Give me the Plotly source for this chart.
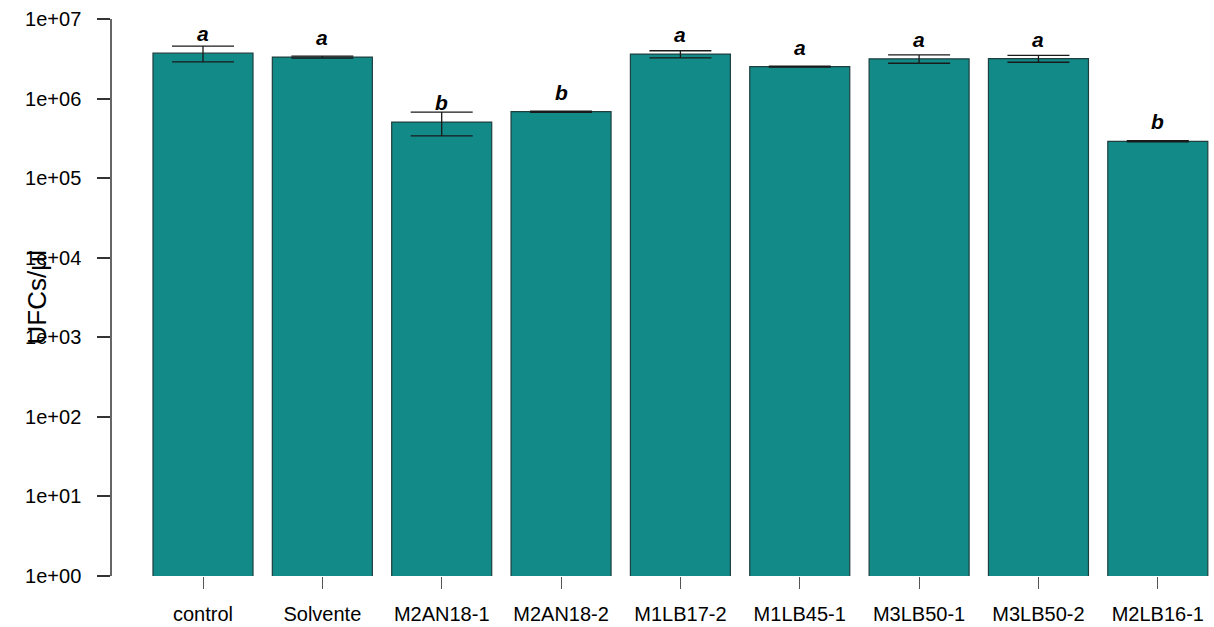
import numpy as np
import plotly.graph_objects as go

categories = ["control", "Solvente", "M2AN18-1", "M2AN18-2", "M1LB17-2",
              "M1LB45-1", "M3LB50-1", "M3LB50-2", "M2LB16-1"]
means = [3.72e6, 3.32e6, 5.07e5, 6.84e5, 3.62e6, 2.52e6, 3.16e6, 3.18e6, 2.90e5]
errors = [0.83e6, 0.09e6, 1.67e5, 0.12e5, 0.37e6, 0.04e6, 0.38e6, 0.32e6, 0.05e5]
letters = ["a", "a", "b", "b", "a", "a", "a", "a", "b"]
ytick_vals = [1e0, 1e1, 1e2, 1e3, 1e4, 1e5, 1e6, 1e7]
ytick_text = ["1e+00", "1e+01", "1e+02", "1e+03", "1e+04", "1e+05", "1e+06", "1e+07"]

FONT = "Liberation Sans, Arial, sans-serif"
W, H = 1214, 627
ML, MR, MT, MB = 112, 0, 19, 51
bar_w = 0.838

fig = go.Figure()
fig.add_trace(go.Bar(
    x=categories, y=means, width=bar_w,
    marker=dict(color="#118A88", line=dict(color="#1E3F3F", width=1.2)),
    error_y=dict(type="data", array=errors, visible=True,
                 color="#1a1a1a", thickness=1.3, width=31),
    showlegend=False,
))

for cat, m, lab in zip(categories, means, letters):
    fig.add_annotation(x=cat, y=np.log10(m), text=f"<b><i>{lab}</i></b>",
                       showarrow=False, yanchor="bottom", yshift=6,
                       font=dict(family=FONT, size=21, color="black"))

# y title
fig.add_annotation(xref="paper", yref="paper", x=(36 - ML) / (W - ML - MR), y=0.5,
                   text="UFCs/µl", textangle=-90, showarrow=False,
                   xanchor="center", yanchor="middle",
                   font=dict(family=FONT, size=26, color="black"))

# baseline under bars
fig.add_shape(type="line", xref="x", yref="y",
              x0=-bar_w / 2, x1=len(categories) - 1 + bar_w / 2, y0=0, y1=0,
              line=dict(color="#999999", width=1.5))

span = W - ML - MR
step = 119.35
left = -(203 - ML) / step
right = left + span / step

fig.update_layout(
    width=W, height=H,
    margin=dict(l=ML, r=MR, t=MT, b=MB, autoexpand=False),
    plot_bgcolor="white", paper_bgcolor="white",
    bargap=1 - bar_w,
    font=dict(family=FONT, size=20, color="black"),
    xaxis=dict(type="category", range=[left, right], showgrid=False, zeroline=False,
               showline=False, ticks="outside", ticklen=12, tickwidth=1.3,
               tickcolor="#555555", ticklabelstandoff=8, automargin=False,
               tickfont=dict(family=FONT, size=20, color="black")),
    yaxis=dict(type="log", range=[0, 7], tickvals=ytick_vals, ticktext=ytick_text,
               showgrid=False, zeroline=False, showline=True, linecolor="#666666",
               linewidth=1.5, ticks="outside", ticklen=13, tickwidth=1.5,
               tickcolor="#333333", ticklabelstandoff=12, automargin=False,
               tickfont=dict(family=FONT, size=20, color="black")),
)

fig.write_html("out.html")
